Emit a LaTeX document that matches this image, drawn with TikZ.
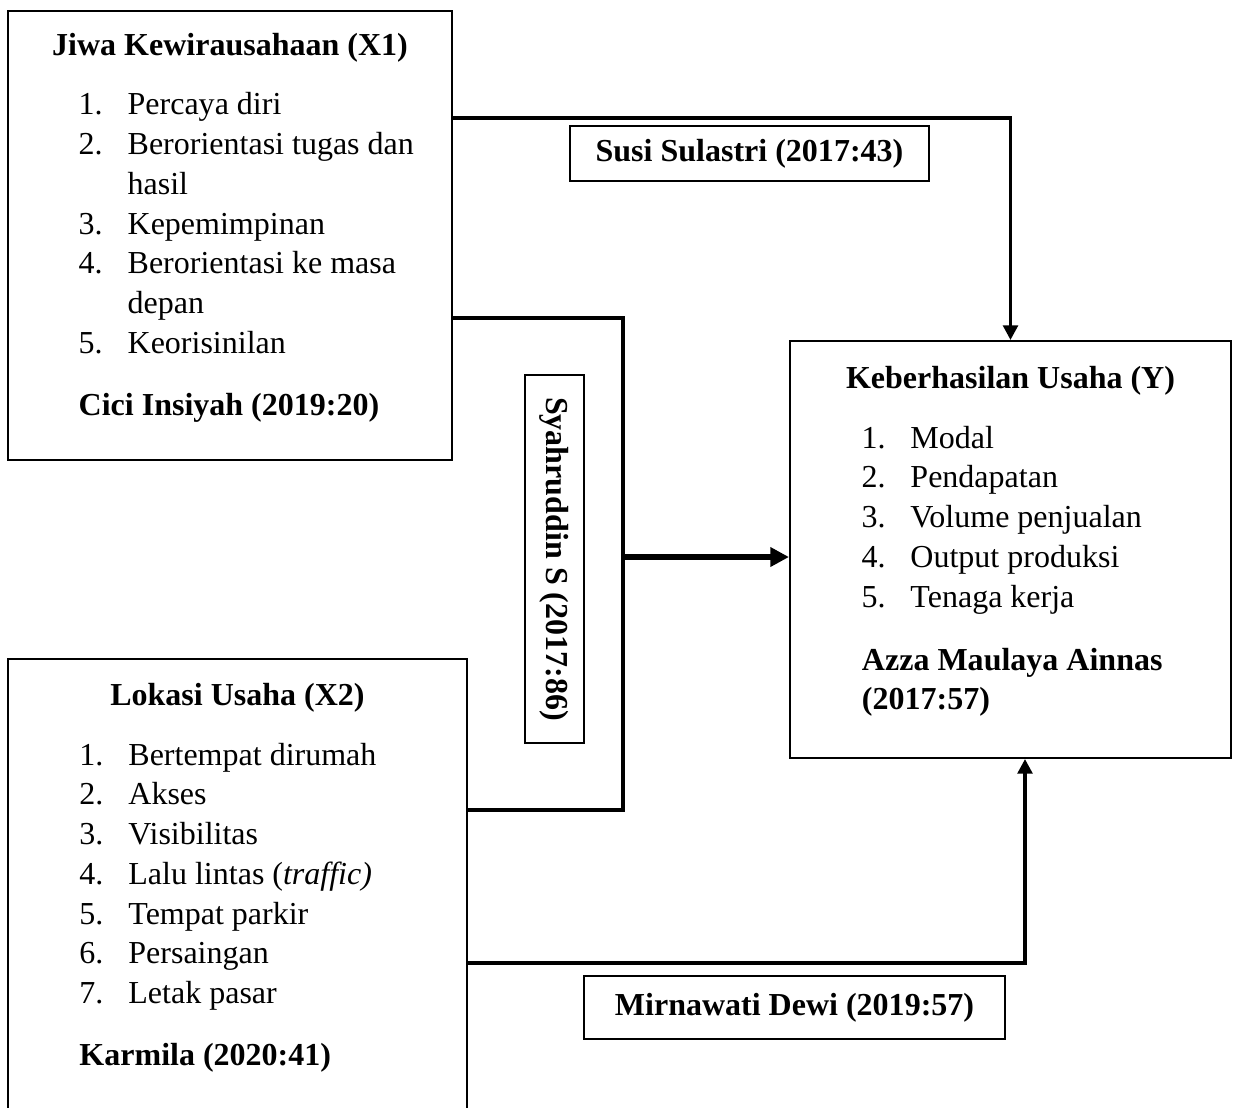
\documentclass[tikz,border=0pt]{standalone}
\usepackage{fontspec}
\setmainfont{Liberation Serif}
\usetikzlibrary{positioning}
\usetikzlibrary{calc}
\usetikzlibrary{arrows.meta}
\tikzset{
    % Plain filled heads, as a word processor draws them
    >={Triangle[length=5.5pt,width=5.5pt]},
%
    % Outline of each variable box
    var box/.style={draw, line width=0.75pt, inner sep=0},
%
    % Boxed source labels sitting beside the links
    cite box/.style={draw, line width=0.75pt, inner sep=0,
        font=\fontsize{12pt}{14.9pt}\selectfont\bfseries},
%
    % Links between the boxes
    link/.style={line width=1.3pt},
    main link/.style={line width=2.4pt}}

% Numbered indicators with a hanging indent
\newcommand{\itemlist}[1]{\begin{tabular}[t]{@{}p{6.45mm}@{}l@{}}#1\end{tabular}}

\begin{document}
\begin{tikzpicture}

\tikzset{every node/.style={font=\fontsize{12pt}{14.9pt}\selectfont}}
\useasboundingbox (0,0) rectangle (162.72mm,-145.86mm);

% variable boxes
\node (x1) [var box, minimum width=58.50mm, minimum height=59.16mm]
    at (30.31mm,-31.03mm) {};
\node (y) [var box, minimum width=58.11mm, minimum height=54.94mm]
    at (133.14mm,-72.40mm) {};
\node (x2) [inner sep=0, minimum width=60.21mm, minimum height=58.90mm]
    at (31.29mm,-116.41mm) {};
\draw [line width=0.75pt] (x2.south west) |- (x2.north east) -- (x2.south east);

% X1
\node (x1title) [anchor=base] at (30.31mm,-7.25mm)
    {\textbf{Jiwa Kewirausahaan (X1)}};
\node (x1list) [anchor=base west, inner sep=0] at (10.3mm,-15.15mm) {\itemlist{
    1. & Percaya diri\\
    2. & Berorientasi tugas dan\\
       & hasil\\
    3. & Kepemimpinan\\
    4. & Berorientasi ke masa\\
       & depan\\
    5. & Keorisinilan}};
\node (x1src) [anchor=base west, inner sep=0] at (10.3mm,-54.68mm)
    {\textbf{Cici Insiyah (2019:20)}};

% Y
\node (ytitle) [anchor=base] at (133.14mm,-51.25mm)
    {\textbf{Keberhasilan Usaha (Y)}};
\node (ylist) [anchor=base west, inner sep=0] at (113.44mm,-59.03mm) {\itemlist{
    1. & Modal\\
    2. & Pendapatan\\
    3. & Volume penjualan\\
    4. & Output produksi\\
    5. & Tenaga kerja}};
\node (ysrc) [anchor=base west, inner sep=0] at (113.5mm,-88.28mm)
    {\begin{tabular}[t]{@{}l@{}}\textbf{Azza Maulaya Ainnas}\\ \textbf{(2017:57)}\end{tabular}};

% X2
\node (x2title) [anchor=base] at (31.29mm,-92.89mm)
    {\textbf{Lokasi Usaha (X2)}};
\node (x2list) [anchor=base west, inner sep=0] at (10.4mm,-100.8mm) {\itemlist{
    1. & Bertempat dirumah\\
    2. & Akses\\
    3. & Visibilitas\\
    4. & Lalu lintas (\textit{traffic)}\\
    5. & Tempat parkir\\
    6. & Persaingan\\
    7. & Letak pasar}};
\node (x2src) [anchor=base west, inner sep=0] at (10.4mm,-140.32mm)
    {\textbf{Karmila (2020:41)}};

% sources on the links
\node (susi) [cite box, minimum width=47.3mm, minimum height=7.25mm]
    at (98.75mm,-20.23mm) {Susi Sulastri (2017:43)};
\node (syah) [cite box, rotate=-90, minimum width=48.49mm, minimum height=7.77mm]
    at (73.06mm,-73.65mm) {Syahruddin S (2017:86)};
\node (mirna) [cite box, minimum width=55.47mm, minimum height=8.30mm]
    at (104.68mm,-132.75mm) {Mirnawati Dewi (2019:57)};

\coordinate (join) at (82.09mm,-73.39mm);

\draw [link, ->] (x1.east |- 0,-15.55mm) -| (y.north);
\draw [link] (x1.east |- 0,-41.90mm) -| (join) |- (x2.east |- 0,-106.73mm);
\draw [main link, >={Triangle[length=7pt,width=7pt]}, ->] (join) -- (join -| y.west);
\draw [link, ->] (x2.east |- 0,-126.88mm) -| (y.south -| 135.05mm,0);

\end{tikzpicture}
\end{document}
